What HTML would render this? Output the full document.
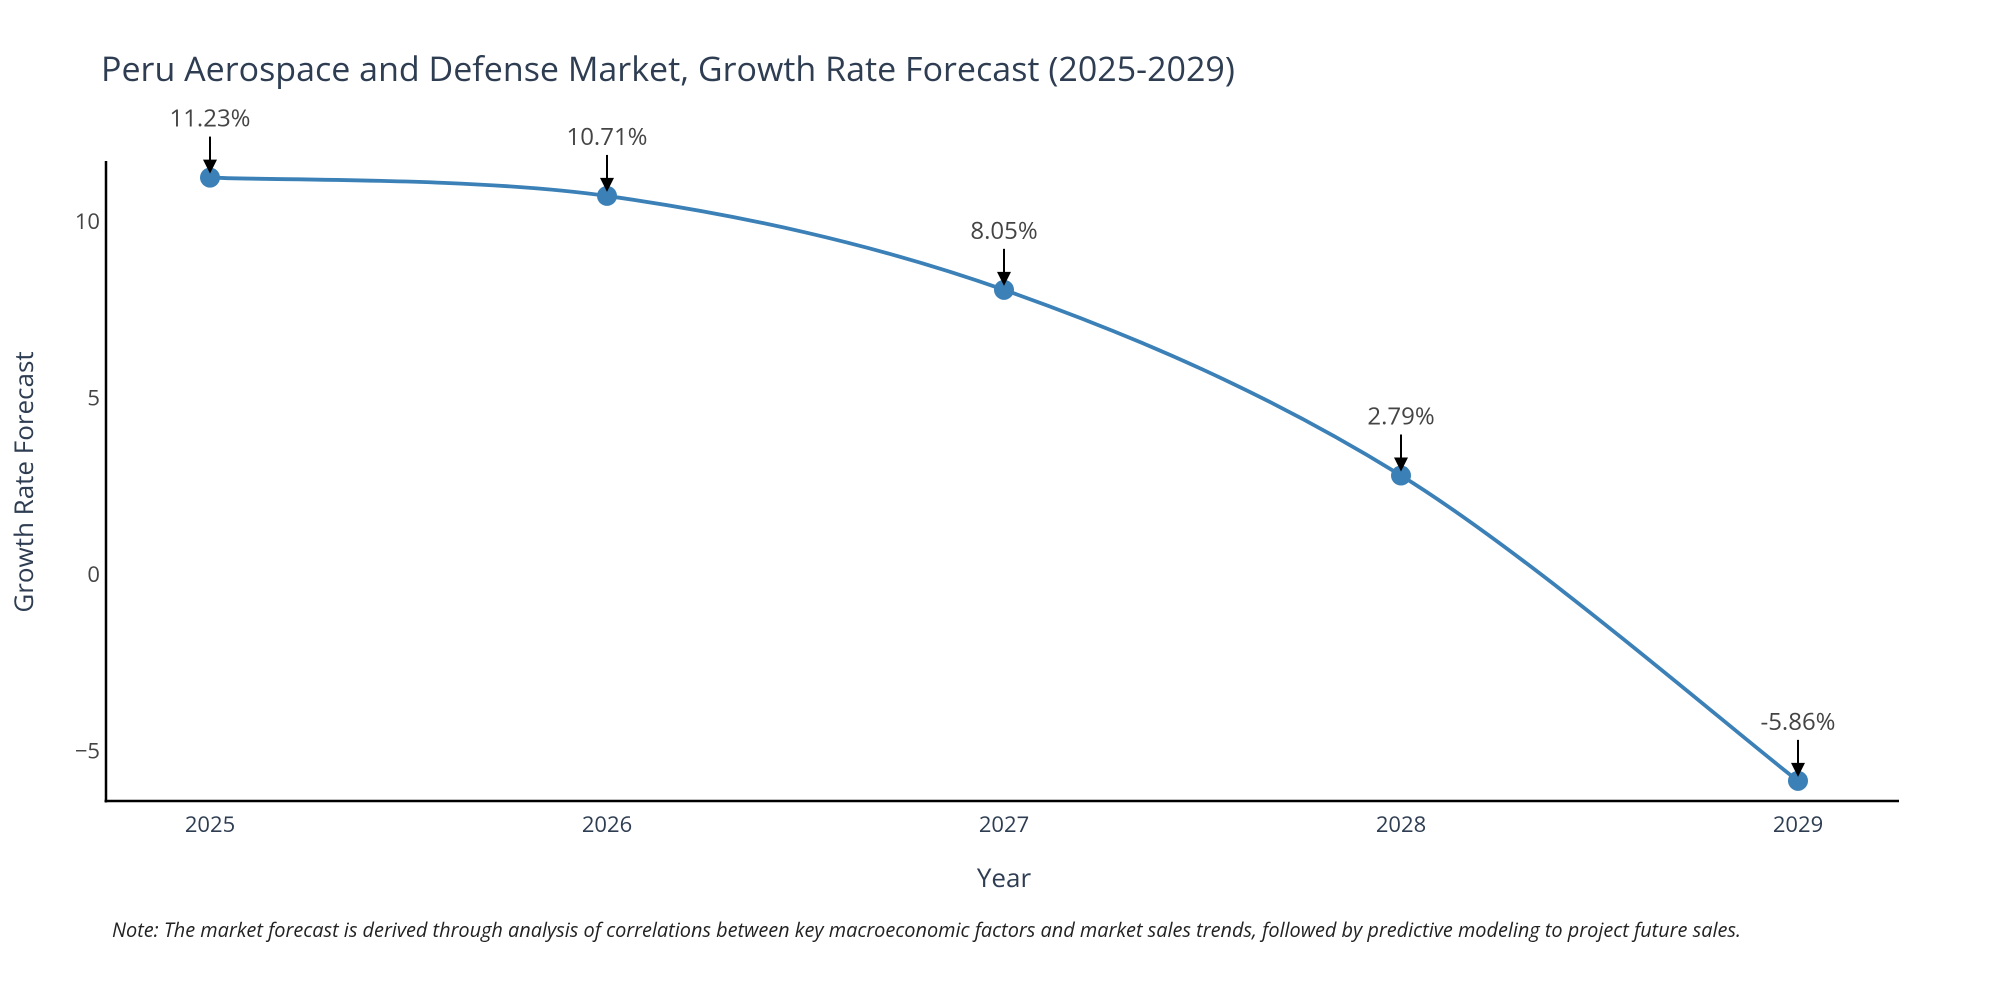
<!DOCTYPE html>
<html><head><meta charset="utf-8">
<style>
body{margin:0;background:#fff;}
svg{display:block;font-family:"Open Sans","Liberation Sans",sans-serif;}
</style></head>
<body>
<svg id="chart" width="2000" height="1000" viewBox="0 0 2000 1000" xmlns="http://www.w3.org/2000/svg">
<rect width="2000" height="1000" fill="#fff"/>
<text x="101" y="81" font-size="34" fill="#2e3d52">Peru Aerospace and Defense Market, Growth Rate Forecast (2025-2029)</text>
<g id="plot"></g>
<text x="1004" y="887" font-size="26" fill="#2e3d52" text-anchor="middle">Year</text>
<text transform="translate(33,482) rotate(-90)" font-size="26" fill="#2e3d52" text-anchor="middle">Growth Rate Forecast</text>
<text x="112" y="937" font-size="19.9" font-style="italic" fill="#222">Note: The market forecast is derived through analysis of correlations between key macroeconomic factors and market sales trends, followed by predictive modeling to project future sales.</text>
</svg>
<script>
const years = [2025, 2026, 2027, 2028, 2029];
const growth = [11.23, 10.71, 8.05, 2.79, -5.86];
const labels = ["11.23%", "10.71%", "8.05%", "2.79%", "-5.86%"];
const yTicks = [-5, 0, 5, 10];
const yTickLabels = ["\u22125", "0", "5", "10"];

const NS = "http://www.w3.org/2000/svg";
const g = document.getElementById("plot");
const X0 = 106, X1 = 1899, Y0 = 161, Y1 = 801;
function xs(v){ return 210 + (v - years[0]) * (1798 - 210) / (years[years.length-1] - years[0]); }
function ys(v){ return 574 - v * 35.3; }
function mk(tag, attrs){ const e = document.createElementNS(NS, tag); for (const k in attrs) e.setAttribute(k, attrs[k]); g.appendChild(e); return e; }

let a = mk("line", {x1:X0, y1:Y0, x2:X0, y2:Y1+1.5, stroke:"#000", "stroke-width":2.5});


a = mk("line", {x1:X0-1.5, y1:Y1, x2:X1, y2:Y1, stroke:"#000", "stroke-width":2.5});



yTicks.forEach((t, i) => {
  const e = mk("text", {x:100, y:ys(t)+8, "font-size":22, fill:"#444", "text-anchor":"end"});
  e.textContent = yTickLabels[i];
  
  
});
years.forEach(yr => {
  const e = mk("text", {x:xs(yr), y:832, "font-size":22, fill:"#2e3d52", "text-anchor":"middle"});
  e.textContent = String(yr);
  
  
});

const pts = years.map((yr, i) => [xs(yr), ys(growth[i])]);
let d = "M" + pts[0][0] + "," + pts[0][1];
for (let i = 0; i < pts.length - 1; i++) {
  const p0 = pts[Math.max(0, i-1)], p1 = pts[i], p2 = pts[i+1], p3 = pts[Math.min(pts.length-1, i+2)];
  const t = 1/6;
  const c1 = [p1[0] + (p2[0]-p0[0])*t, p1[1] + (p2[1]-p0[1])*t];
  const c2 = [p2[0] - (p3[0]-p1[0])*t, p2[1] - (p3[1]-p1[1])*t];
  d += " C" + c1[0] + "," + c1[1] + " " + c2[0] + "," + c2[1] + " " + p2[0] + "," + p2[1];
}
const line = mk("path", {d:d, fill:"none", stroke:"#3b80b6", "stroke-width":3.8});



pts.forEach((p, i) => {
  const c = mk("circle", {cx:p[0], cy:p[1], r:10, fill:"#3b80b6"});
  
  
  const ar = mk("line", {x1:p[0], y1:p[1]-41, x2:p[0], y2:p[1]-16, stroke:"#000", "stroke-width":2});
  
  
  const hd = mk("polygon", {points:(p[0]-7)+","+(p[1]-18)+" "+(p[0]+7)+","+(p[1]-18)+" "+p[0]+","+(p[1]-4), fill:"#000"});
  
  
  const tx = mk("text", {x:p[0], y:p[1]-51, "font-size":24, fill:"#444", "text-anchor":"middle"});
  tx.textContent = labels[i];
  
  
});
</script>
</body></html>
